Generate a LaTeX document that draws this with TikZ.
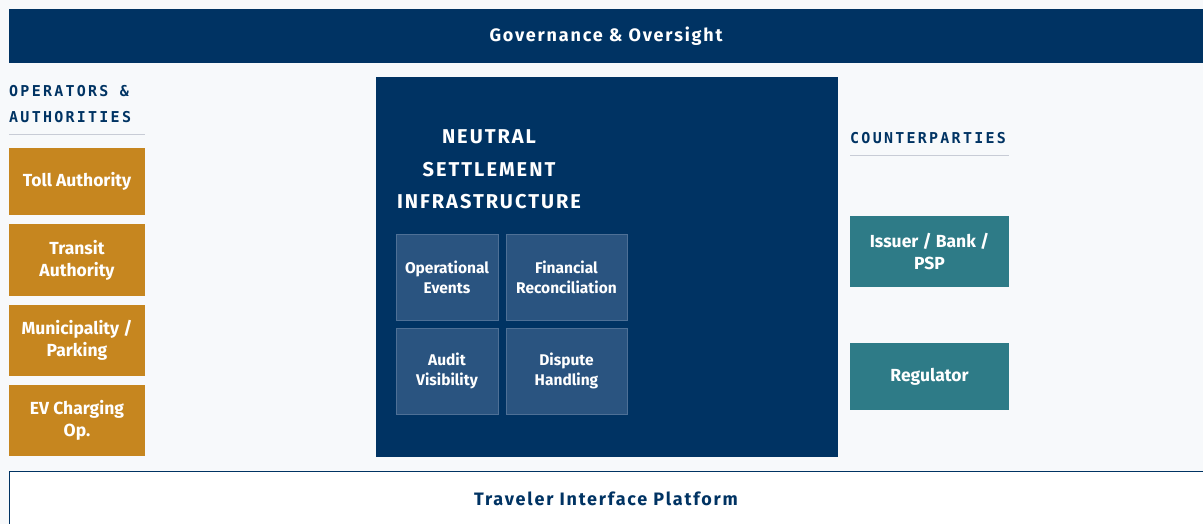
\documentclass[tikz,border=0pt]{standalone}
\usepackage{fontspec}
\setmainfont{Fira Sans}
\newfontfamily\monolab[LetterSpace=15]{DejaVu Sans Mono}
\newfontfamily\spacedsans[LetterSpace=10]{Fira Sans}
\definecolor{navy}{RGB}{0,51,99}
\definecolor{opcolor}{RGB}{198,134,31}
\definecolor{cpcolor}{RGB}{46,123,135}
\definecolor{subfill}{RGB}{42,84,128}
\definecolor{subline}{RGB}{78,112,150}
\definecolor{pagebg}{RGB}{247,249,251}
\definecolor{ruleline}{RGB}{200,204,214}
\begin{document}
\begin{tikzpicture}[x=1pt,y=-1pt,
    box/.style={rectangle,inner sep=0pt,align=center,text=white,
        font=\bfseries\fontsize{17.5}{22}\selectfont},
    opbox/.style={box,fill=opcolor,minimum width=136pt},
    cpbox/.style={box,fill=cpcolor,minimum width=159pt},
    subbox/.style={box,fill=subfill,draw=subline,line width=1pt,minimum height=86pt,
        font=\bfseries\fontsize{15.5}{20}\selectfont},
    grouplab/.style={inner sep=0pt,align=left,text=navy,
        font=\monolab\bfseries\fontsize{15}{26}\selectfont}]
    \useasboundingbox (0,0) rectangle (1203,524);
    \fill[pagebg] (0,0) rectangle (1203,524);
    % top and bottom bands
    \node[box,fill=navy,minimum width=1194pt,minimum height=54pt,
        font=\spacedsans\bfseries\fontsize{18}{20}\selectfont] (gov) at (606,36) {Governance \& Oversight};
    \fill[white] (9,471) rectangle (1203,524);
    \draw[navy,line width=1pt] (9.5,524) |- (1203,471.5);
    \node[inner sep=0pt,text=navy,font=\spacedsans\bfseries\fontsize{18}{20}\selectfont] (tip) at (606,499) {Traveler Interface Platform};
    % operators and authorities
    \node[grouplab,anchor=west] (opslab) at (9,104) {OPERATORS \&\\AUTHORITIES};
    \draw[ruleline,line width=1pt] (9,135) -- (145,135);
    \node[opbox,minimum height=67pt] (toll) at (77,181.5) {Toll Authority};
    \node[opbox,minimum height=72pt] (transit) at (77,260) {Transit\\Authority};
    \node[opbox,minimum height=71pt] (muni) at (77,340.5) {Municipality /\\Parking};
    \node[opbox,minimum height=71pt] (ev) at (77,420.5) {EV Charging\\Op.};
    % neutral settlement infrastructure
    \node[fill=navy,minimum width=462pt,minimum height=380pt,inner sep=0pt] (nsi) at (607,267) {};
    \node[box,font=\spacedsans\bfseries\fontsize{20}{32.5}\selectfont] (nsititle) at (489,169.5) {NEUTRAL\\SETTLEMENT\\INFRASTRUCTURE};
    \node[subbox,minimum width=102pt] (ops) at (447,277) {Operational\\Events};
    \node[subbox,minimum width=121pt] (fin) at (566.5,277) {Financial\\Reconciliation};
    \node[subbox,minimum width=102pt] (audit) at (447,371) {Audit\\Visibility};
    \node[subbox,minimum width=121pt] (disp) at (566.5,371) {Dispute\\Handling};
    % counterparties
    \node[grouplab,anchor=west] (cplab) at (850,138) {COUNTERPARTIES};
    \draw[ruleline,line width=1pt] (850,156) -- (1009,156);
    \node[cpbox,minimum height=71pt] (issuer) at (929.5,251.5) {Issuer / Bank /\\PSP};
    \node[cpbox,minimum height=67pt] (reg) at (929.5,376.5) {Regulator};
\end{tikzpicture}
\end{document}
